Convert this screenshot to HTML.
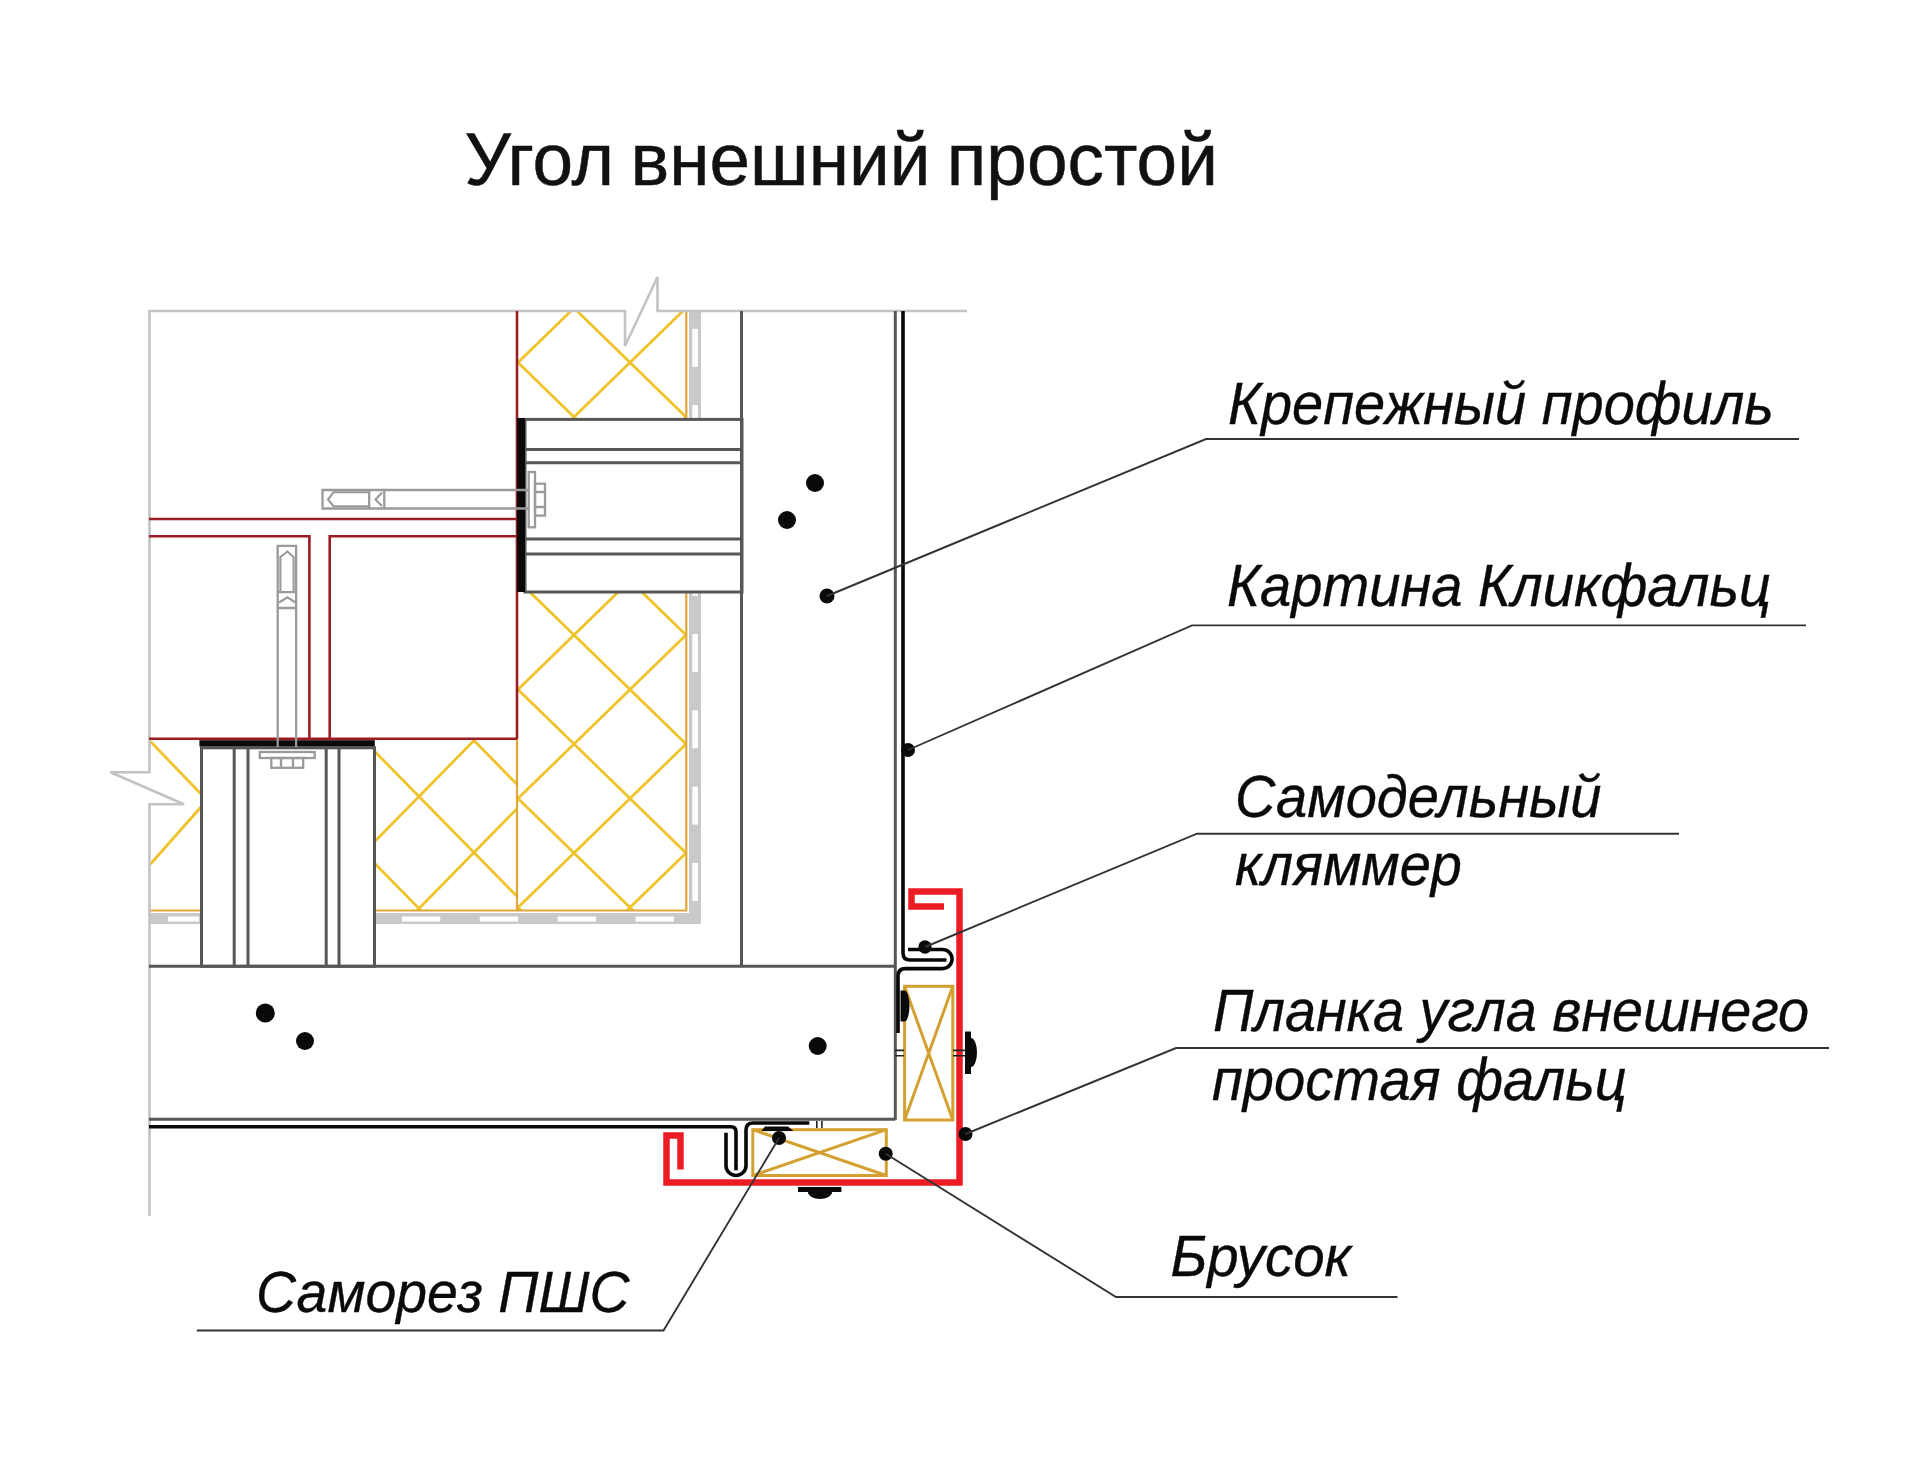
<!DOCTYPE html>
<html><head><meta charset="utf-8"><title>Угол внешний простой</title>
<style>
html,body{margin:0;padding:0;background:#fff;}
body{width:1920px;height:1470px;overflow:hidden;}
svg{display:block;}
.t{font-family:"Liberation Sans",sans-serif;fill:#111;stroke:#111;stroke-width:0.5;}
.it{font-family:"Liberation Sans",sans-serif;font-style:italic;fill:#0a0a0a;stroke:#0a0a0a;stroke-width:0.35;}
</style></head><body>
<svg width="1920" height="1470" viewBox="0 0 1920 1470">
<rect width="1920" height="1470" fill="#fff"/>
<g fill="none" stroke="#efc32a" stroke-width="2.8">
<clipPath id="cA"><rect x="517" y="311" width="169" height="600"/></clipPath><path clip-path="url(#cA)" d="M517.0 34.5L686.0 199.0M517.0 143.5L686.0 308.0M517.0 252.5L686.0 417.0M517.0 361.5L686.0 526.0M517.0 470.5L686.0 635.0M517.0 579.5L686.0 744.0M517.0 688.5L686.0 853.0M517.0 797.5L686.0 962.0M517.0 906.5L686.0 1071.0M517.0 1015.5L686.0 1180.0M517.0 1124.5L686.0 1289.0M517.0 145.5L686.0 -19.0M517.0 254.5L686.0 90.0M517.0 363.5L686.0 199.0M517.0 472.5L686.0 308.0M517.0 581.5L686.0 417.0M517.0 690.5L686.0 526.0M517.0 799.5L686.0 635.0M517.0 908.5L686.0 744.0M517.0 1017.5L686.0 853.0M517.0 1126.5L686.0 962.0M517.0 1235.5L686.0 1071.0"/>
<clipPath id="cB"><rect x="375" y="739" width="142" height="172"/></clipPath><path clip-path="url(#cB)" d="M375.0 415.7L517.0 560.3M375.0 527.7L517.0 672.3M375.0 639.7L517.0 784.3M375.0 751.7L517.0 896.3M375.0 863.7L517.0 1008.3M375.0 975.7L517.0 1120.3M375.0 1087.7L517.0 1232.3M375.0 617.3L517.0 472.7M375.0 729.3L517.0 584.7M375.0 841.3L517.0 696.7M375.0 953.3L517.0 808.7M375.0 1065.3L517.0 920.7M375.0 1177.3L517.0 1032.7"/>
<path d="M150.5 741.5L201 794M201 807L150.5 864"/>
</g>
<g fill="none" stroke="#e2a53a" stroke-width="2.2">
<path d="M686.3 311V910.5H149M517 739V910.5"/>
</g>
<g fill="#c9c9c9">
<rect x="689" y="311" width="12" height="613"/>
<rect x="149" y="913" width="51" height="11"/>
<rect x="375" y="913" width="326" height="11"/>
</g>
<g fill="#fff">
<rect x="692.3" y="328.8" width="5.6" height="38"/>
<rect x="692.3" y="405.1" width="5.6" height="38"/>
<rect x="692.3" y="481.4" width="5.6" height="38"/>
<rect x="692.3" y="557.7" width="5.6" height="38"/>
<rect x="692.3" y="634.0" width="5.6" height="38"/>
<rect x="692.3" y="710.3" width="5.6" height="38"/>
<rect x="692.3" y="786.6" width="5.6" height="38"/>
<rect x="692.3" y="862.9" width="5.6" height="38"/>
<rect x="401.8" y="916.5" width="38.5" height="5"/>
<rect x="479.7" y="916.5" width="38.5" height="5"/>
<rect x="557.6" y="916.5" width="38.5" height="5"/>
<rect x="635.5" y="916.5" width="38.5" height="5"/>
<rect x="168" y="916.5" width="31" height="5"/>
</g>
<path fill="none" stroke="#c3c3c3" stroke-width="2.6" d="M149.5 1216V804.3H184L110.5 772.2H149.5V311H625V346L657.5 277V311H967"/>
<g fill="none" stroke="#9d1b22" stroke-width="2.6">
<path d="M149 519H517M149 536.2H309.4V739M329.7 739V536.2H517M149 738.7H517M517 311V739"/>
</g>
<g fill="#fff" stroke="#575757" stroke-width="3">
<rect x="525" y="419.4" width="217" height="172.6"/>
<rect x="201.5" y="747.8" width="173" height="218.5"/>
</g>
<g fill="none" stroke="#575757" stroke-width="3">
<path d="M525 449.4H742M525 462.8H742M525 539H742M525 554H742"/>
<path d="M234.2 748V966M248 748V966M326.2 748V966M339 748V966"/>
<path d="M741.5 311V966.3M895.3 311V1120M149 966.3H895.3M149 1119.3H895.3"/>
</g>
<rect x="517" y="418" width="8" height="174" fill="#0a0a0a"/>
<rect x="199.4" y="740.2" width="175.4" height="6.2" fill="#0a0a0a"/>
<g fill="none" stroke="#9a9a9a" stroke-width="2.3">
<path d="M528 490H322.5V508.5H528"/>
<path d="M369.2 490V508.5M384.3 490V508.5"/>
<rect x="528.7" y="472" width="6.3" height="55.3"/>
<rect x="535" y="483.7" width="10" height="31.9"/>
<path d="M535 492H545M535 507H545"/>
</g>
<g fill="none" stroke="#9a9a9a" stroke-width="2.1"><path d="M369 492.3H333.5L328 499.5L333.5 506.2H369M382 492.5L375.5 499.5L382 506"/></g>
<g fill="none" stroke="#9a9a9a" stroke-width="2.3">
<path d="M277.7 747V545.9H296.1V747"/>
<path d="M277.7 592.2H296.1M277.7 608H296.1"/>
<rect x="259.8" y="752" width="54.9" height="6"/>
<rect x="271.3" y="758" width="31.9" height="9.8"/>
<path d="M281 758V767.8M293 758V767.8"/>
</g>
<g fill="none" stroke="#9a9a9a" stroke-width="2.1"><path d="M280.4 592V557L287.4 551.5L293.6 557V592M279 602.5L287.4 597.3L295.5 602.5"/></g>
<g fill="none" stroke="#070707" stroke-width="3.6" stroke-linecap="butt">
<path d="M903 311V953Q903 960 910 960H946.5"/>
<path d="M908 949.5H942.5A9.5 9.5 0 0 1 942.5 968.6H905.5Q898 968.6 898 976V1033"/>
<path d="M149 1126.7H731Q736 1126.7 736 1132V1170.3"/>
<path d="M726 1132.8V1165.5A10 10 0 0 0 746 1165.5V1130Q746 1123 753 1123H809.3"/>
</g>
<path fill="none" stroke="#ec1c24" stroke-width="6.5" stroke-linejoin="miter" d="M944 906.5H911.5V891.5H959.5V1182.4H666.5V1135.5H680.5V1169.5"/>
<g fill="none" stroke="#d3a032" stroke-width="3">
<rect x="904.6" y="986.3" width="48.2" height="133.7"/>
<path d="M904.6 986.3L952.8 1120M952.8 986.3L904.6 1120"/>
<rect x="752.8" y="1129.7" width="133.5" height="45.8"/>
<path d="M752.8 1129.7L886.3 1175.5M886.3 1129.7L752.8 1175.5"/>
</g>
<g fill="none" stroke="#222" stroke-width="1.6"><path d="M816.8 1121V1128M821.9 1121V1128M895 1050.4H904M895 1055.8H904M953 1050.4H965M953 1055.8H965"/></g>
<g fill="#0a0a0a">
<path d="M900.5 990.5H904.5A5 15.5 0 0 1 904.5 1021.5H900.5Z"/>
<path d="M965 1031.6H971V1038A6 14.5 0 0 1 971 1067V1074H965Z"/>
<path d="M761.3 1131L765 1126.5H788L793.4 1131Z"/>
<path d="M798 1187H841.4V1192H832A12 7 0 0 1 808 1192H798Z"/>
</g>
<g fill="#0a0a0a">
<circle cx="815" cy="483" r="9"/>
<circle cx="787" cy="520" r="9"/>
<circle cx="827" cy="596" r="7.5"/>
<circle cx="908" cy="750" r="7"/>
<circle cx="925" cy="947" r="6.7"/>
<circle cx="965.5" cy="1134" r="7"/>
<circle cx="885.7" cy="1153.8" r="7"/>
<circle cx="779" cy="1138" r="7"/>
<circle cx="265.3" cy="1013" r="9.5"/>
<circle cx="305" cy="1041" r="9"/>
<circle cx="817.7" cy="1046" r="9"/>
</g>
<g fill="none" stroke="#333" stroke-width="1.9">
<path d="M827 596L1206 439H1799"/>
<path d="M908 750L1192 625.4H1806"/>
<path d="M925 947L1197 833.7H1679"/>
<path d="M965.5 1134L1176 1048H1829"/>
<path d="M885.7 1153.8L1116 1297H1397.5"/>
<path d="M779 1138L663.5 1330.5H196.8"/>
</g>
<text class="t" transform="translate(464.5 185.4) scale(0.993 1)" font-size="73.5" word-spacing="-4">Угол внешний простой</text>
<text class="it" transform="translate(1228 423.5) scale(0.949 1)" font-size="59">Крепежный профиль</text>
<text class="it" transform="translate(1227 606) scale(0.951 1)" font-size="59">Картина Кликфальц</text>
<text class="it" transform="translate(1235 816.7) scale(0.95 1)" font-size="59">Самодельный</text>
<text class="it" transform="translate(1235 884.7) scale(0.949 1)" font-size="59">кляммер</text>
<text class="it" transform="translate(1213 1031) scale(0.946 1)" font-size="59">Планка угла внешнего</text>
<text class="it" transform="translate(1212 1100) scale(0.951 1)" font-size="59">простая фальц</text>
<text class="it" transform="translate(256 1312.4) scale(0.955 1)" font-size="58">Саморез ПШС</text>
<text class="it" transform="translate(1170.5 1275.8) scale(0.982 1)" font-size="57.5">Брусок</text>
</svg></body></html>
